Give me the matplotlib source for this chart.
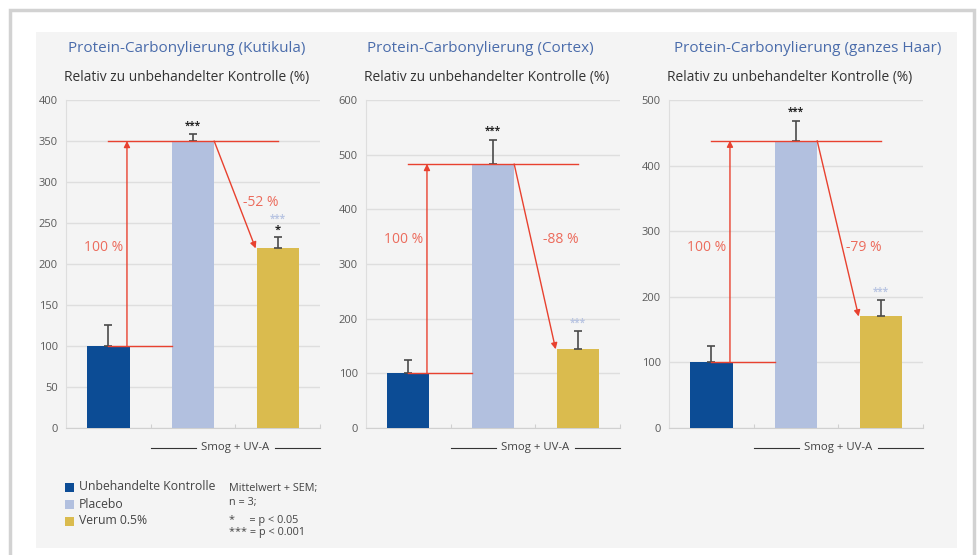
import matplotlib.pyplot as plt
from matplotlib.patches import Rectangle

plt.rcParams['font.family'] = ['Open Sans', 'DejaVu Sans']

# data
titles = ['Protein-Carbonylierung (Kutikula)',
          'Protein-Carbonylierung (Cortex)',
          'Protein-Carbonylierung (ganzes Haar)']
subtitle = 'Relativ zu unbehandelter Kontrolle (%)'
groups = ['Unbehandelte Kontrolle', 'Placebo', 'Verum 0.5%']
means = [[100, 350, 219],
         [100, 483, 144],
         [100, 438, 170]]
sems = [[26, 8, 14],
        [24, 44, 33],
        [25, 30, 25]]
ymax = [400, 600, 500]
ystep = [50, 100, 100]
reduction = ['-52 %', '-88 %', '-79 %']
verum_stars = [['***', '*'], ['***'], ['***']]

colors = ['#0c4c95', '#b2c0df', '#dabb4e']
red = '#e8412f'
red_txt = '#ec6b5c'
star_blue = '#b9c5e2'

W, H = 977, 555
fig = plt.figure(figsize=(W / 100, H / 100), dpi=100)

def fx(px):
    return px / W

def fy(py):
    return 1 - py / H

# frame + grey panel
fig.patches.append(Rectangle((fx(10), fy(570)), fx(964), 560 / H, transform=fig.transFigure,
                             facecolor='white', edgecolor='#d2d2d2', lw=2.5, zorder=-2))
fig.patches.append(Rectangle((fx(36), fy(548)), fx(921), 516 / H, transform=fig.transFigure,
                             facecolor='#f4f4f4', edgecolor='none', zorder=-1))

lefts = [66, 366, 669]
title_x = [187, 480, 808]
pct_y = [220, 344, 275]
red_y = [275, 344, 275]
for i in range(3):
    ax = fig.add_axes([fx(lefts[i]), fy(428), fx(254), 328 / H])
    ax.set_facecolor('none')
    x = [0, 1, 2]
    ax.bar(x, means[i], width=0.5, color=colors, zorder=3)
    ax.errorbar(x, means[i], yerr=[[0, 0, 0], sems[i]], fmt='none', ecolor='#4a4a4a',
                elinewidth=1.2, capsize=3, capthick=1.2, zorder=4)
    ax.set_xlim(-0.5, 2.5)
    ax.set_ylim(0, ymax[i])
    ax.set_yticks(range(0, ymax[i] + 1, ystep[i]))
    ax.set_xticks([0.5, 1.5, 2.5])
    ax.set_xticklabels([])
    ax.tick_params(axis='x', length=3, color='#d0d0d0', direction='in')
    ax.tick_params(axis='y', length=0, labelsize=8, labelcolor='#5a5a5a', pad=6)
    ax.grid(axis='y', color='#dedede', lw=1, zorder=0)
    for s in ['top', 'right']:
        ax.spines[s].set_visible(False)
    ax.spines['left'].set_color('#dedede')
    ax.spines['bottom'].set_color('#d0d0d0')

    top = means[i][1]
    ctrl = means[i][0]
    ver = means[i][2]
    # red annotation lines
    ax.plot([0, 2], [top, top], color=red, lw=1, zorder=5)
    ax.plot([0, 0.75], [ctrl, ctrl], color=red, lw=1, zorder=5)
    ax.annotate('', xy=(0.22, top), xytext=(0.22, ctrl),
                arrowprops=dict(arrowstyle='-|>', color=red, lw=1, mutation_scale=9,
                                shrinkA=0, shrinkB=0), zorder=6)
    ax.annotate('', xy=(1.74, ver), xytext=(1.25, top),
                arrowprops=dict(arrowstyle='-|>', color=red, lw=1, mutation_scale=9,
                                shrinkA=0, shrinkB=0), zorder=6)
    ax.text(-0.06, pct_y[i], '100 %', color=red_txt, fontsize=10, ha='center', va='center')
    ax.text(1.8, red_y[i], reduction[i], color=red_txt, fontsize=10,
            ha='center', va='center')

    # significance stars
    ax.annotate('***', (1, top + sems[i][1]), xytext=(0, 2), textcoords='offset points',
                ha='center', va='bottom', fontsize=7, color='#222222', fontweight='bold')
    if len(verum_stars[i]) == 2:
        ax.annotate('*', (2, ver + sems[i][2]), xytext=(0, 1), textcoords='offset points',
                    ha='center', va='bottom', fontsize=8, color='#222222', fontweight='bold')
        ax.annotate('***', (2, ver + sems[i][2]), xytext=(0, 9), textcoords='offset points',
                    ha='center', va='bottom', fontsize=7, color=star_blue, fontweight='bold')
    else:
        ax.annotate('***', (2, ver + sems[i][2]), xytext=(0, 2), textcoords='offset points',
                    ha='center', va='bottom', fontsize=7, color=star_blue, fontweight='bold')

    # Smog + UV-A bracket
    tr = ax.get_xaxis_transform()
    ax.plot([0.5, 1.03], [-0.06, -0.06], transform=tr, color='#333333', lw=0.8, clip_on=False)
    ax.plot([1.97, 2.5], [-0.06, -0.06], transform=tr, color='#333333', lw=0.8, clip_on=False)
    ax.text(1.5, -0.06, 'Smog + UV-A', transform=tr, ha='center',
            va='center', fontsize=8.2, color='#444444')

    fig.text(fx(title_x[i]), fy(48), titles[i], ha='center', va='center', fontsize=11,
             color='#4a6cab')
    fig.text(fx(lefts[i] - 2), fy(77), subtitle, ha='left', va='center', fontsize=9.9,
             color='#333333')

# legend
leg_y = [487, 504, 521]
for c, g, yy in zip(colors, groups, leg_y):
    fig.patches.append(Rectangle((fx(65), fy(yy + 4.5)), fx(9), 9 / H, transform=fig.transFigure,
                                 facecolor=c, edgecolor='none'))
    fig.text(fx(79), fy(yy), g, ha='left', va='center', fontsize=8.8, color='#444444')

notes = ['Mittelwert + SEM;', 'n = 3;', '*     = p < 0.05', '*** = p < 0.001']
note_y = [489, 502, 521, 533]
for t, yy in zip(notes, note_y):
    fig.text(fx(229), fy(yy), t, ha='left', va='center', fontsize=7.8, color='#444444')

fig.savefig('out.png', dpi=100)
